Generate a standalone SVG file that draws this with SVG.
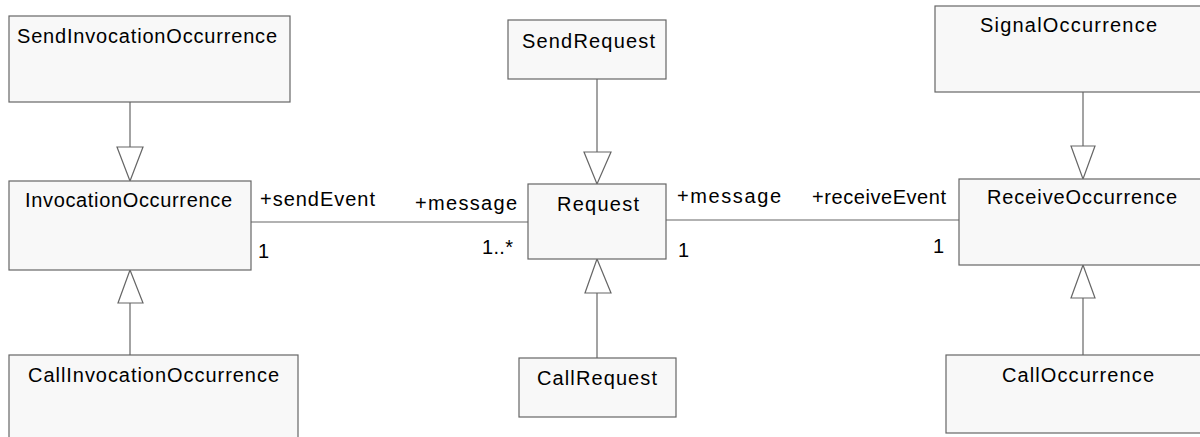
<svg xmlns="http://www.w3.org/2000/svg" width="1200" height="437" viewBox="0 0 1200 437">
<style>
.box{fill:#f8f8f8;stroke:#666;stroke-width:1.2}
.t{font-family:"Liberation Sans",Arial,sans-serif;font-size:20px;fill:#000}
.c{fill:none;stroke:#666;stroke-width:1.2}
.tri{fill:#fff;stroke:#666;stroke-width:1.2}
</style>
<rect width="1200" height="437" fill="#fff"/>
<g id="connectors">
  <path class="c" d="M130,102 V147"/>
  <polygon class="tri" points="117,147 143,147 130,181"/>
  <path class="c" d="M130,303 V355"/>
  <polygon class="tri" points="118,303 143,303 130,270"/>
  <path class="c" d="M597,79 V152"/>
  <polygon class="tri" points="584,152 611,152 597,184"/>
  <path class="c" d="M597,293 V358"/>
  <polygon class="tri" points="585,293 611,293 597,259"/>
  <path class="c" d="M1083,92 V146"/>
  <polygon class="tri" points="1071,146 1095,146 1083,179"/>
  <path class="c" d="M1083,298 V355"/>
  <polygon class="tri" points="1071,298 1095,298 1083,265"/>
  <path class="c" d="M251,222 H528"/>
  <path class="c" d="M666,220 H959"/>
  <text class="t" x="260" y="206" textLength="115" lengthAdjust="spacing">+sendEvent</text>
  <text class="t" x="258" y="258">1</text>
  <text class="t" x="415" y="210" textLength="102" lengthAdjust="spacing">+message</text>
  <text class="t" x="482" y="254" textLength="31" lengthAdjust="spacing">1..*</text>
  <text class="t" x="677" y="203" textLength="104" lengthAdjust="spacing">+message</text>
  <text class="t" x="678" y="257">1</text>
  <text class="t" x="812" y="204" textLength="134" lengthAdjust="spacing">+receiveEvent</text>
  <text class="t" x="933" y="253">1</text>
</g>
<g id="SendInvocationOccurrence">
  <rect class="box" x="9" y="16" width="281" height="86"/>
  <text class="t" x="17" y="43" textLength="260" lengthAdjust="spacing">SendInvocationOccurrence</text>
</g>
<g id="InvocationOccurrence">
  <rect class="box" x="9" y="181" width="242" height="89"/>
  <text class="t" x="25" y="207" textLength="207" lengthAdjust="spacing">InvocationOccurrence</text>
</g>
<g id="CallInvocationOccurrence">
  <rect class="box" x="9" y="355" width="289" height="95"/>
  <text class="t" x="28" y="382" textLength="251" lengthAdjust="spacing">CallInvocationOccurrence</text>
</g>
<g id="SendRequest">
  <rect class="box" x="508" y="20" width="158" height="59"/>
  <text class="t" x="522" y="48" textLength="133" lengthAdjust="spacing">SendRequest</text>
</g>
<g id="Request">
  <rect class="box" x="528" y="184" width="138" height="75"/>
  <text class="t" x="557" y="211" textLength="82" lengthAdjust="spacing">Request</text>
</g>
<g id="CallRequest">
  <rect class="box" x="519" y="358" width="157" height="59"/>
  <text class="t" x="537" y="385" textLength="120" lengthAdjust="spacing">CallRequest</text>
</g>
<g id="SignalOccurrence">
  <rect class="box" x="935" y="6" width="275" height="86"/>
  <text class="t" x="980" y="32" textLength="177" lengthAdjust="spacing">SignalOccurrence</text>
</g>
<g id="ReceiveOccurrence">
  <rect class="box" x="959" y="179" width="251" height="86"/>
  <text class="t" x="987" y="204" textLength="190" lengthAdjust="spacing">ReceiveOccurrence</text>
</g>
<g id="CallOccurrence">
  <rect class="box" x="946" y="355" width="264" height="78"/>
  <text class="t" x="1002" y="382" textLength="152" lengthAdjust="spacing">CallOccurrence</text>
</g>
</svg>
